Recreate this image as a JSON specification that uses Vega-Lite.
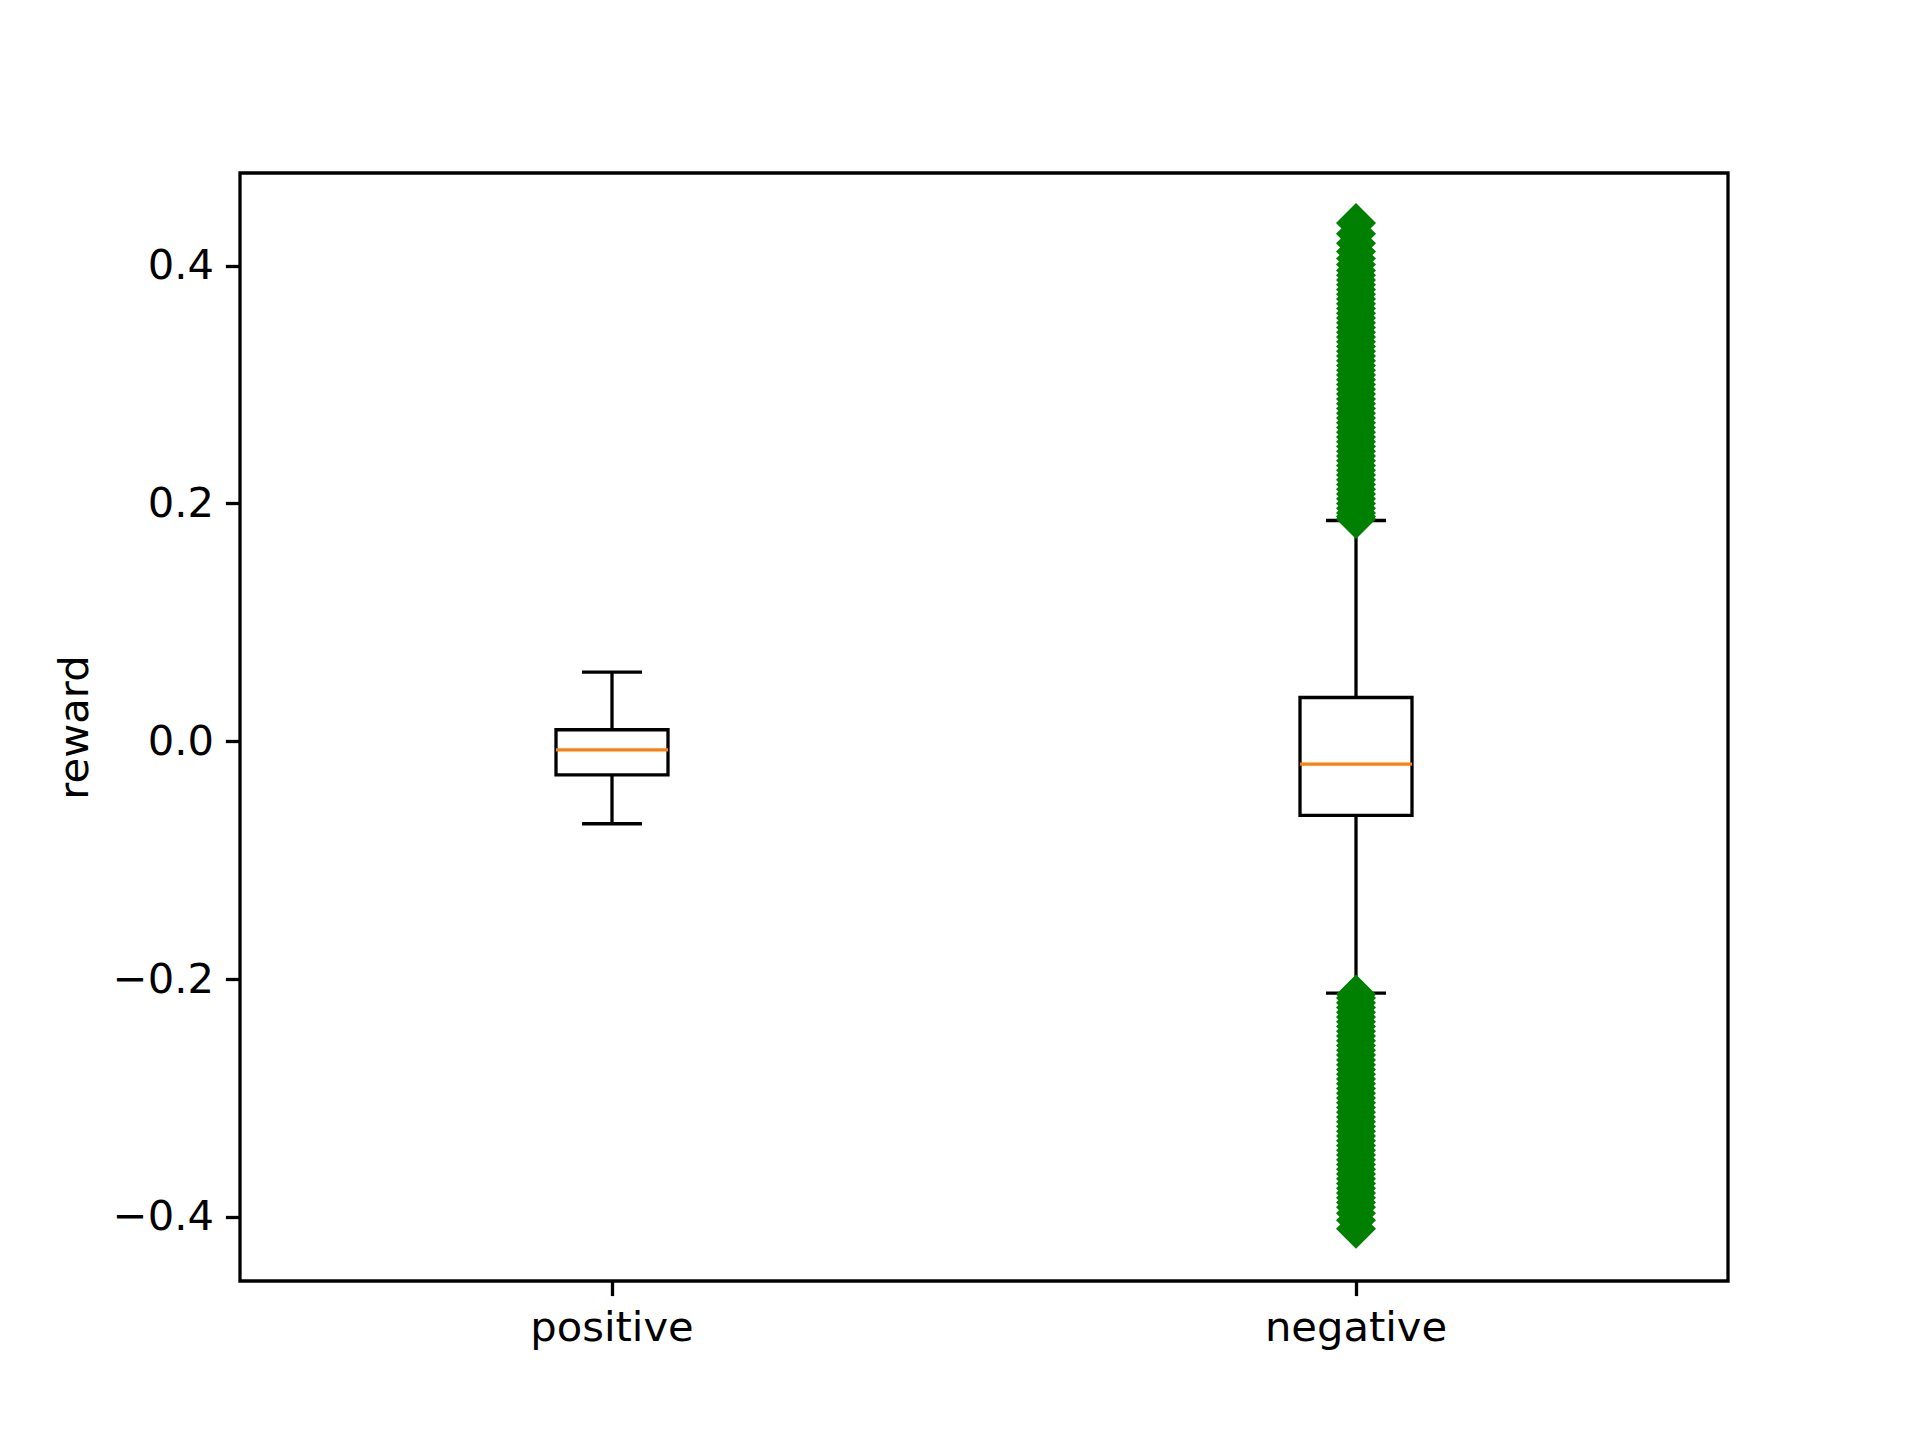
{
  "$schema": "https://vega.github.io/schema/vega-lite/v6.json",
  "width": 1488,
  "height": 1108,
  "autosize": {"type": "none"},
  "padding": {"left": 240, "top": 173, "right": 192, "bottom": 159},
  "background": "white",
  "config": {
    "view": {"stroke": "black", "strokeWidth": 3.3},
    "axis": {
      "domain": false,
      "grid": false,
      "labelFont": "DejaVu Sans",
      "labelFontSize": 41.67,
      "labelColor": "black",
      "labelLimit": 0,
      "tickColor": "black",
      "tickSize": 14.6,
      "tickWidth": 3.3,
      "labelPadding": 12,
      "titleFont": "DejaVu Sans",
      "titleFontSize": 41.67,
      "titleFontWeight": "normal",
      "titleColor": "black"
    }
  },
  "datasets": {
    "boxes": [
      {"category": "positive", "lower": -0.0694, "q1": -0.0282, "median": -0.0072, "q3": 0.0097, "upper": 0.0582},
      {"category": "negative", "lower": -0.2118, "q1": -0.0624, "median": -0.0192, "q3": 0.0368, "upper": 0.1857}
    ],
    "outliers": [
      {"category": "negative", "reward": 0.436},
      {"category": "negative", "reward": 0.427},
      {"category": "negative", "reward": 0.419},
      {"category": "negative", "reward": 0.412},
      {"category": "negative", "reward": 0.406},
      {"category": "negative", "reward": 0.401},
      {"category": "negative", "reward": 0.396},
      {"category": "negative", "reward": 0.392},
      {"category": "negative", "reward": 0.388},
      {"category": "negative", "reward": 0.384},
      {"category": "negative", "reward": 0.380},
      {"category": "negative", "reward": 0.376},
      {"category": "negative", "reward": 0.372},
      {"category": "negative", "reward": 0.368},
      {"category": "negative", "reward": 0.364},
      {"category": "negative", "reward": 0.360},
      {"category": "negative", "reward": 0.356},
      {"category": "negative", "reward": 0.352},
      {"category": "negative", "reward": 0.348},
      {"category": "negative", "reward": 0.344},
      {"category": "negative", "reward": 0.340},
      {"category": "negative", "reward": 0.336},
      {"category": "negative", "reward": 0.332},
      {"category": "negative", "reward": 0.328},
      {"category": "negative", "reward": 0.324},
      {"category": "negative", "reward": 0.320},
      {"category": "negative", "reward": 0.316},
      {"category": "negative", "reward": 0.312},
      {"category": "negative", "reward": 0.308},
      {"category": "negative", "reward": 0.304},
      {"category": "negative", "reward": 0.300},
      {"category": "negative", "reward": 0.296},
      {"category": "negative", "reward": 0.292},
      {"category": "negative", "reward": 0.288},
      {"category": "negative", "reward": 0.284},
      {"category": "negative", "reward": 0.280},
      {"category": "negative", "reward": 0.276},
      {"category": "negative", "reward": 0.272},
      {"category": "negative", "reward": 0.268},
      {"category": "negative", "reward": 0.264},
      {"category": "negative", "reward": 0.260},
      {"category": "negative", "reward": 0.256},
      {"category": "negative", "reward": 0.252},
      {"category": "negative", "reward": 0.248},
      {"category": "negative", "reward": 0.244},
      {"category": "negative", "reward": 0.240},
      {"category": "negative", "reward": 0.236},
      {"category": "negative", "reward": 0.232},
      {"category": "negative", "reward": 0.228},
      {"category": "negative", "reward": 0.224},
      {"category": "negative", "reward": 0.220},
      {"category": "negative", "reward": 0.216},
      {"category": "negative", "reward": 0.212},
      {"category": "negative", "reward": 0.208},
      {"category": "negative", "reward": 0.204},
      {"category": "negative", "reward": 0.200},
      {"category": "negative", "reward": 0.196},
      {"category": "negative", "reward": 0.192},
      {"category": "negative", "reward": 0.189},
      {"category": "negative", "reward": 0.187},
      {"category": "negative", "reward": -0.213},
      {"category": "negative", "reward": -0.216},
      {"category": "negative", "reward": -0.220},
      {"category": "negative", "reward": -0.224},
      {"category": "negative", "reward": -0.228},
      {"category": "negative", "reward": -0.232},
      {"category": "negative", "reward": -0.236},
      {"category": "negative", "reward": -0.240},
      {"category": "negative", "reward": -0.244},
      {"category": "negative", "reward": -0.248},
      {"category": "negative", "reward": -0.252},
      {"category": "negative", "reward": -0.256},
      {"category": "negative", "reward": -0.260},
      {"category": "negative", "reward": -0.264},
      {"category": "negative", "reward": -0.268},
      {"category": "negative", "reward": -0.272},
      {"category": "negative", "reward": -0.276},
      {"category": "negative", "reward": -0.280},
      {"category": "negative", "reward": -0.284},
      {"category": "negative", "reward": -0.288},
      {"category": "negative", "reward": -0.292},
      {"category": "negative", "reward": -0.296},
      {"category": "negative", "reward": -0.300},
      {"category": "negative", "reward": -0.304},
      {"category": "negative", "reward": -0.308},
      {"category": "negative", "reward": -0.312},
      {"category": "negative", "reward": -0.316},
      {"category": "negative", "reward": -0.320},
      {"category": "negative", "reward": -0.324},
      {"category": "negative", "reward": -0.328},
      {"category": "negative", "reward": -0.332},
      {"category": "negative", "reward": -0.336},
      {"category": "negative", "reward": -0.340},
      {"category": "negative", "reward": -0.344},
      {"category": "negative", "reward": -0.348},
      {"category": "negative", "reward": -0.352},
      {"category": "negative", "reward": -0.356},
      {"category": "negative", "reward": -0.360},
      {"category": "negative", "reward": -0.364},
      {"category": "negative", "reward": -0.368},
      {"category": "negative", "reward": -0.372},
      {"category": "negative", "reward": -0.376},
      {"category": "negative", "reward": -0.380},
      {"category": "negative", "reward": -0.384},
      {"category": "negative", "reward": -0.388},
      {"category": "negative", "reward": -0.392},
      {"category": "negative", "reward": -0.397},
      {"category": "negative", "reward": -0.403},
      {"category": "negative", "reward": -0.410}
    ]
  },
  "encoding": {
    "x": {
      "field": "category",
      "type": "nominal",
      "sort": ["positive", "negative"],
      "scale": {"paddingInner": 0, "paddingOuter": 0},
      "axis": {"title": null, "labelAngle": 0}
    }
  },
  "layer": [
    {
      "data": {"name": "boxes"},
      "mark": {"type": "rule", "color": "black", "strokeWidth": 3.3},
      "encoding": {
        "y": {
          "field": "lower",
          "type": "quantitative",
          "title": "reward",
          "scale": {"domain": [-0.454, 0.478], "nice": false, "zero": false},
          "axis": {
            "values": [-0.4, -0.2, 0, 0.2, 0.4],
            "format": ".1f",
            "labelExpr": "replace(datum.label, '-', '\u2212')",
            "titlePadding": 16
          }
        },
        "y2": {"field": "upper"}
      }
    },
    {
      "data": {"name": "boxes"},
      "mark": {"type": "bar", "fill": "white", "stroke": "black", "strokeWidth": 3.3, "size": 112},
      "encoding": {
        "y": {"field": "q1", "type": "quantitative", "title": "reward"},
        "y2": {"field": "q3"}
      }
    },
    {
      "data": {"name": "boxes"},
      "mark": {"type": "tick", "color": "black", "size": 60, "thickness": 3.3, "opacity": 1},
      "encoding": {
        "y": {"field": "lower", "type": "quantitative", "title": "reward"}
      }
    },
    {
      "data": {"name": "boxes"},
      "mark": {"type": "tick", "color": "black", "size": 60, "thickness": 3.3, "opacity": 1},
      "encoding": {
        "y": {"field": "upper", "type": "quantitative", "title": "reward"}
      }
    },
    {
      "data": {"name": "boxes"},
      "mark": {"type": "tick", "color": "#ff7f0e", "size": 112, "thickness": 3.3, "opacity": 1},
      "encoding": {
        "y": {"field": "median", "type": "quantitative", "title": "reward"}
      }
    },
    {
      "data": {"name": "outliers"},
      "mark": {"type": "point", "shape": "diamond", "filled": true, "color": "#008000", "size": 1600, "opacity": 1},
      "encoding": {
        "y": {"field": "reward", "type": "quantitative", "title": "reward"}
      }
    }
  ]
}
